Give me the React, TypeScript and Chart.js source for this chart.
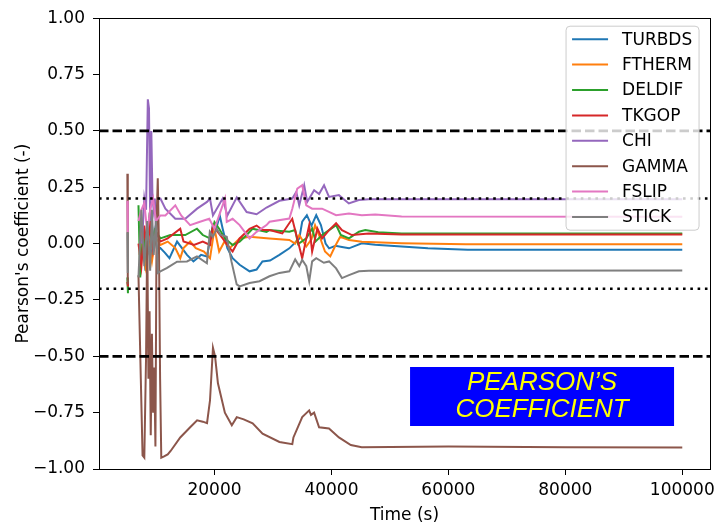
import React, { useEffect, useRef } from "react";
import { Chart, registerables } from "chart.js";
Chart.register(...registerables);

type Pt = [number, number | null];

const SERIES_NAMES = ["TURBDS", "FTHERM", "DELDIF", "TKGOP", "CHI", "GAMMA", "FSLIP", "STICK"];
const SERIES_COLORS = ["#1f77b4", "#ff7f0e", "#2ca02c", "#d62728", "#9467bd", "#8c564b", "#e377c2", "#7f7f7f"];

const X_TICKS = [20000, 40000, 60000, 80000, 100000];
const Y_TICKS = [-1, -0.75, -0.5, -0.25, 0, 0.25, 0.5, 0.75, 1];
const X_RANGE = [250, 104750];
const Y_RANGE = [-1, 1];
const REF_DASHED = [0.5, -0.5];
const REF_DOTTED = [0.2, -0.2];
const X_TITLE = "Time (s)";
const Y_TITLE = "Pearson's coefficient (-)";
const NOTE_LINES = ["PEARSON\u2019S", "COEFFICIENT"];

const TURBDS: Pt[] = [[7400,-0.08],[7800,0.0],[8200,-0.12],[8700,0.02],[9200,-0.06],[9700,0.05],[10200,-0.03],[10752,-0.02],[11500,-0.04],[12300,-0.065],[13600,0.009],[15300,-0.05],[16400,-0.079],[17700,-0.05],[18700,-0.057],[19700,0.08],[20300,0.066],[20900,0.125],[21400,0.066],[22200,-0.02],[23100,-0.065],[24300,-0.094],[26000,-0.123],[27200,-0.115],[28200,-0.079],[29500,-0.075],[31100,-0.05],[32800,-0.021],[34500,0.023],[35000,0.097],[35800,0.126],[36600,0.08],[37400,0.126],[38200,0.082],[39000,0.0],[39600,-0.021],[40700,-0.01],[41800,-0.015],[43000,-0.021],[45200,0.0015],[47500,-0.005],[52000,-0.013],[56500,-0.021],[63300,-0.027],[80000,-0.027],[100000,-0.027]];
const FTHERM: Pt[] = [[7200,-0.05],[7600,0.05],[8200,-0.1],[8800,0.0],[9300,-0.08],[9900,0.03],[10752,-0.006],[12000,0.009],[13300,-0.02],[14145,-0.065],[14700,-0.02],[15840,0.009],[16800,-0.02],[18200,-0.035],[19232,-0.065],[20000,0.066],[20800,-0.035],[21700,0.009],[22600,-0.02],[24300,0.023],[26000,0.03],[29400,0.023],[32800,0.016],[33800,0.0],[34500,0.038],[35700,-0.013],[36600,0.02],[37200,0.082],[38000,0.03],[38900,-0.035],[39800,-0.057],[40600,-0.013],[41500,0.03],[43000,0.016],[45200,0.008],[52000,0.0015],[63000,-0.003],[100000,-0.003]];
const DELDIF: Pt[] = [[5100,-0.15],[5200,-0.22],[6000,null],[7000,0.17],[7300,-0.15],[7800,0.05],[8300,-0.05],[8800,0.1],[9300,0.0],[9800,0.06],[10752,0.023],[12449,0.038],[15000,0.038],[17000,0.066],[18000,0.038],[19232,0.023],[20000,0.096],[20800,0.066],[21800,0.023],[23100,-0.006],[24300,0.009],[25500,0.038],[26500,0.066],[28900,0.052],[29400,0.06],[32800,0.053],[33800,0.06],[34300,-0.002],[35700,0.023],[36700,0.067],[37300,0.01],[38400,0.038],[39600,0.06],[40800,0.082],[41600,0.038],[43000,0.023],[44700,0.053],[45800,0.06],[48000,0.05],[52000,0.045],[100000,0.045]];
const TKGOP: Pt[] = [[5100,-0.17],[5200,-0.19],[6000,null],[7000,0.0],[7500,-0.1],[8000,0.08],[8500,-0.05],[9000,0.1],[9500,-0.03],[10000,0.05],[10752,0.009],[12000,0.023],[14145,0.066],[14700,0.009],[16500,-0.006],[18000,0.009],[19232,-0.006],[19740,0.08],[21400,0.023],[22600,-0.02],[23100,-0.035],[24300,0.023],[26000,0.066],[27200,0.08],[28200,0.06],[29400,0.06],[31600,0.045],[33300,0.11],[34000,0.038],[35000,-0.065],[35700,0.023],[36200,0.082],[36700,-0.035],[37600,0.067],[38400,0.023],[39600,0.06],[40800,0.09],[41800,0.06],[43500,0.038],[46400,0.045],[52000,0.04],[100000,0.04]];
const CHI: Pt[] = [[7600,0.0],[8000,0.2],[8300,0.15],[8600,0.64],[8800,0.6],[9000,0.1],[9200,0.5],[9400,0.2],[9600,0.15],[9800,0.2],[10000,0.05],[10400,0.2],[10752,0.2],[11600,0.155],[13297,0.11],[15000,0.11],[17027,0.155],[18723,0.185],[19232,0.2],[19740,0.125],[21400,0.2],[22200,0.125],[23812,0.205],[25500,0.14],[27200,0.13],[28900,0.16],[31104,0.19],[33308,0.2],[33987,0.229],[34496,0.17],[35344,0.259],[35853,0.185],[37040,0.237],[37888,0.22],[38736,0.259],[39584,0.207],[41280,0.215],[42976,0.178],[44672,0.193],[46368,0.197],[100000,0.197]];
const GAMMA: Pt[] = [[5100,0.31],[5150,0.0],[5200,-0.18],[6000,null],[7000,-0.14],[7400,-0.6],[7700,-0.94],[8000,-0.95],[8300,-0.5],[8500,0.05],[8700,-0.6],[8900,-0.3],[9100,-0.85],[9300,-0.4],[9500,-0.75],[9700,-0.55],[9900,-0.9],[10100,0.1],[10300,0.29],[10500,0.0],[10700,-0.6],[10900,-0.95],[11300,-0.945],[12000,-0.935],[12500,-0.92],[14145,-0.86],[15840,-0.815],[17027,-0.784],[18000,-0.79],[18723,-0.797],[19232,-0.696],[19740,-0.462],[20100,-0.5],[20590,-0.62],[21777,-0.75],[22964,-0.806],[23812,-0.77],[25000,-0.78],[26525,-0.797],[28221,-0.843],[31104,-0.88],[33308,-0.89],[33500,-0.86],[35004,-0.77],[36191,-0.74],[36500,-0.76],[37039,-0.75],[37887,-0.815],[39583,-0.82],[41279,-0.86],[43314,-0.894],[45180,-0.903],[60000,-0.9],[80000,-0.903],[100000,-0.905]];
const FSLIP: Pt[] = [[5100,0.19],[5150,0.12],[5200,0.05],[6000,null],[7000,0.1],[7500,0.15],[8000,0.18],[8500,0.05],[9000,0.15],[9500,0.2],[10000,0.1],[10752,0.125],[11600,0.125],[13297,0.17],[14300,0.125],[15840,0.082],[17400,0.096],[19100,0.11],[20000,0.066],[20800,0.125],[21800,0.2],[22100,0.096],[23100,0.11],[24300,0.082],[26000,0.023],[27200,0.052],[28900,0.082],[29414,0.097],[32800,0.111],[33308,0.155],[34160,0.244],[35000,0.259],[35700,0.17],[36700,0.155],[38400,0.155],[40800,0.126],[43000,0.133],[45200,0.126],[47500,0.129],[52000,0.12],[100000,0.119]];
const STICK: Pt[] = [[5100,0.05],[5150,-0.05],[5200,-0.13],[6000,null],[7000,-0.15],[7500,0.15],[8000,-0.1],[8500,0.1],[9000,-0.12],[9300,0.15],[9600,-0.05],[10000,0.1],[10300,-0.13],[10752,-0.123],[11900,-0.108],[13600,-0.08],[15300,-0.079],[17000,-0.057],[18700,-0.087],[19200,0.052],[19700,0.03],[20400,0.066],[21000,0.04],[22100,0.03],[22900,-0.079],[23800,-0.181],[24300,-0.19],[26000,-0.175],[27700,-0.167],[29400,-0.145],[31100,-0.13],[32800,-0.123],[33800,-0.07],[34500,-0.1],[35000,-0.072],[35700,-0.1],[36200,-0.167],[36700,-0.079],[37400,-0.065],[38700,-0.085],[39600,-0.079],[40800,-0.11],[41800,-0.153],[43000,-0.14],[44700,-0.123],[46400,-0.12],[100000,-0.119]];

const SERIES_DATA: Pt[][] = [TURBDS, FTHERM, DELDIF, TKGOP, CHI, GAMMA, FSLIP, STICK];

const FONT = "DejaVu Sans";
const fmtY = (v: number) => v.toFixed(2).replace("-", "\u2212");

const decorPlugin = {
  id: "decor",
  afterDatasetsDraw(chart: any) {
    const { ctx, chartArea: a, scales } = chart;
    const y = scales.y;
    ctx.save();
    ctx.beginPath();
    ctx.rect(a.left, a.top, a.right - a.left, a.bottom - a.top);
    ctx.clip();
    ctx.strokeStyle = "#000";
    ctx.lineCap = "butt";
    ctx.lineWidth = 2.8;
    ctx.setLineDash([9.5, 4]);
    for (const v of REF_DASHED) {
      const py = y.getPixelForValue(v);
      ctx.beginPath();
      ctx.moveTo(a.left, py);
      ctx.lineTo(a.right, py);
      ctx.stroke();
    }
    ctx.lineWidth = 2.4;
    ctx.setLineDash([2.6, 4.7]);
    for (const v of REF_DOTTED) {
      const py = y.getPixelForValue(v);
      ctx.beginPath();
      ctx.moveTo(a.left, py);
      ctx.lineTo(a.right, py);
      ctx.stroke();
    }
    ctx.restore();
    // frame
    ctx.save();
    ctx.strokeStyle = "#000";
    ctx.lineWidth = 1;
    ctx.strokeRect(Math.round(a.left) + 0.5, Math.round(a.top) + 0.5, Math.round(a.right - a.left), Math.round(a.bottom - a.top));
    ctx.restore();
  },
  afterDraw(chart: any) {
    const { ctx, chartArea: a } = chart;
    ctx.save();
    // axis titles
    ctx.fillStyle = "#000";
    ctx.font = `17px "${FONT}"`;
    ctx.textAlign = "center";
    ctx.textBaseline = "alphabetic";
    ctx.fillText(X_TITLE, (a.left + a.right) / 2, 520);
    ctx.save();
    ctx.translate(28, (a.top + a.bottom) / 2);
    ctx.rotate(-Math.PI / 2);
    ctx.fillText(Y_TITLE, 0, 0);
    ctx.restore();

    // annotation box
    const bx = a.right - 300, by = a.bottom - 102, bw = 264, bh = 59;
    ctx.fillStyle = "#0000ff";
    ctx.fillRect(bx, by, bw, bh);
    ctx.fillStyle = "#ffff00";
    ctx.font = `italic 26px "Liberation Sans"`;
    ctx.textAlign = "center";
    ctx.fillText(NOTE_LINES[0], bx + bw / 2, by + 23);
    ctx.fillText(NOTE_LINES[1], bx + bw / 2, by + 50);

    // legend
    const lx = a.right - 144, ly = a.top + 8, lw = 133, lh = 204;
    const r = 4;
    ctx.beginPath();
    ctx.moveTo(lx + r, ly);
    ctx.lineTo(lx + lw - r, ly);
    ctx.arcTo(lx + lw, ly, lx + lw, ly + r, r);
    ctx.lineTo(lx + lw, ly + lh - r);
    ctx.arcTo(lx + lw, ly + lh, lx + lw - r, ly + lh, r);
    ctx.lineTo(lx + r, ly + lh);
    ctx.arcTo(lx, ly + lh, lx, ly + lh - r, r);
    ctx.lineTo(lx, ly + r);
    ctx.arcTo(lx, ly, lx + r, ly, r);
    ctx.closePath();
    ctx.fillStyle = "rgba(255,255,255,0.8)";
    ctx.fill();
    ctx.strokeStyle = "#cccccc";
    ctx.lineWidth = 1;
    ctx.stroke();
    ctx.font = `17px "${FONT}"`;
    ctx.textAlign = "left";
    ctx.textBaseline = "middle";
    SERIES_NAMES.forEach((name, i) => {
      const cy = ly + 13 + i * 25.4;
      ctx.strokeStyle = SERIES_COLORS[i];
      ctx.lineWidth = 2;
      ctx.beginPath();
      ctx.moveTo(lx + 6, cy);
      ctx.lineTo(lx + 42, cy);
      ctx.stroke();
      ctx.fillStyle = "#000";
      ctx.fillText(name, lx + 56, cy + 1);
    });
    ctx.restore();
  },
};

export default function App() {
  const ref = useRef<HTMLCanvasElement | null>(null);
  useEffect(() => {
    if (!ref.current) return;
    const datasets = SERIES_NAMES.map((name, i) => ({
      label: name,
      data: SERIES_DATA[i].map(([t, v]) => ({ x: t, y: v })),
      borderColor: SERIES_COLORS[i],
      backgroundColor: SERIES_COLORS[i],
      borderWidth: 2,
      pointRadius: 0,
      tension: 0,
      spanGaps: false,
      fill: false,
      order: SERIES_NAMES.length - 1 - i,
    }));
    const chart = new Chart(ref.current, {
      type: "line",
      data: { datasets },
      options: {
        responsive: false,
        animation: false,
        events: [],
        layout: { padding: { left: 0, right: 6, top: 15, bottom: 0 } },
        plugins: { legend: { display: false }, tooltip: { enabled: false } },
        scales: {
          x: {
            type: "linear",
            position: "bottom",
            min: X_RANGE[0],
            max: X_RANGE[1],
            afterBuildTicks: (s: any) => { s.ticks = X_TICKS.map((v) => ({ value: v })); },
            afterFit: (s: any) => { s.height = 54; },
            grid: { display: true, drawOnChartArea: false, drawTicks: true, tickLength: 6, color: "#000", lineWidth: 1 },
            border: { display: false },
            ticks: { font: { family: FONT, size: 17 }, color: "#000", padding: 5, maxRotation: 0, autoSkip: false, callback: (v: any) => String(v) },
          },
          y: {
            type: "linear",
            min: Y_RANGE[0],
            max: Y_RANGE[1],
            afterBuildTicks: (s: any) => { s.ticks = Y_TICKS.map((v) => ({ value: v })); },
            afterFit: (s: any) => { s.width = 99; },
            grid: { display: true, drawOnChartArea: false, drawTicks: true, tickLength: 6, color: "#000", lineWidth: 1 },
            border: { display: false },
            ticks: { font: { family: FONT, size: 17 }, color: "#000", padding: 8, autoSkip: false, callback: (v: any) => fmtY(Number(v)) },
          },
        },
      },
      plugins: [decorPlugin],
    } as any);
    return () => chart.destroy();
  }, []);
  return (
    <div style={{ position: "fixed", left: 0, top: 0, width: 720, height: 523, background: "#fff" }}>
      <canvas ref={ref} width={720} height={523} style={{ display: "block", width: 720, height: 523 }} />
    </div>
  );
}
